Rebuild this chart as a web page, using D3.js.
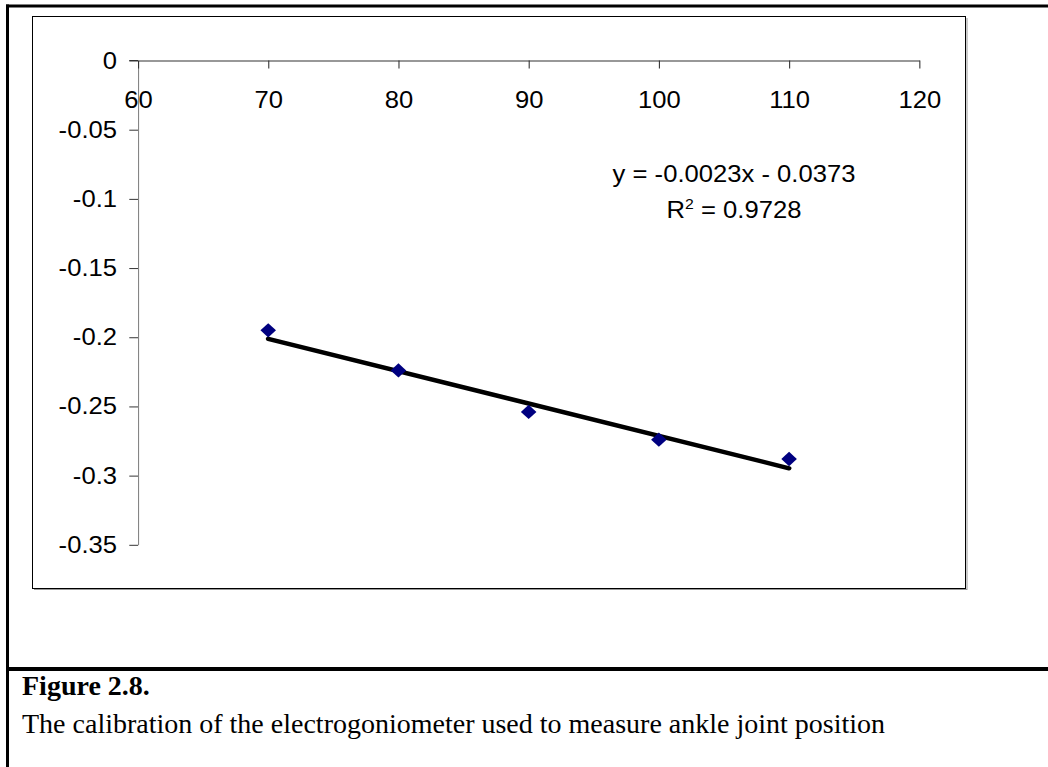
<!DOCTYPE html>
<html>
<head>
<meta charset="utf-8">
<script src="https://cdn.jsdelivr.net/npm/d3@7"></script>
<style>
  html, body { margin: 0; padding: 0; background: #fff; }
  svg { display: block; }
</style>
</head>
<body>
<svg id="fig" width="1048" height="767"></svg>
<script>
// Calibration readings: joint angle (deg) vs goniometer output (V)
const angles = [70, 80, 90, 100, 110];
const outputs = [-0.195, -0.224, -0.254, -0.274, -0.288];

// Linear fit shown on the chart
const fitSlope = -0.00234;
const fitIntercept = -0.0373;
const fitLabel = "y = -0.0023x - 0.0373";
const fitR2Value = "0.9728";

// Axis ticks
const xTicks = [60, 70, 80, 90, 100, 110, 120];
const yTicks = [0, -0.05, -0.1, -0.15, -0.2, -0.25, -0.3, -0.35];
const yTickLabels = ["0", "-0.05", "-0.1", "-0.15", "-0.2", "-0.25", "-0.3", "-0.35"];

const captionTitle = "Figure 2.8.";
const captionText = "The calibration of the electrogoniometer used to measure ankle joint position";

const svg = d3.select("#fig");
const W = 1048, H = 767;

// Page frame
svg.append("line").attr("x1", 7.5).attr("x2", 7.5).attr("y1", 4.5).attr("y2", H)
  .attr("stroke", "#000").attr("stroke-width", 3);
svg.append("line").attr("x1", 6).attr("x2", W).attr("y1", 6).attr("y2", 6)
  .attr("stroke", "#000").attr("stroke-width", 3);
svg.append("line").attr("x1", 6).attr("x2", W).attr("y1", 669).attr("y2", 669)
  .attr("stroke", "#000").attr("stroke-width", 4);

// Chart area box with a light shadow edge
svg.append("line").attr("x1", 34).attr("x2", 967).attr("y1", 589.5).attr("y2", 589.5)
  .attr("stroke", "#999").attr("stroke-width", 1);
svg.append("line").attr("x1", 967).attr("x2", 967).attr("y1", 18).attr("y2", 590)
  .attr("stroke", "#999").attr("stroke-width", 1);
svg.append("rect").attr("x", 32.5).attr("y", 16.5).attr("width", 933).attr("height", 572)
  .attr("fill", "#fff").attr("stroke", "#000").attr("stroke-width", 1);

// The plot is drawn slightly stretched horizontally
const SX = 1.09;
const plot = svg.append("g").attr("transform", `scale(${SX},1)`);
const fontFamily = "'Liberation Sans', Arial, Helvetica, sans-serif";
const fontSize = 23.5;

const x = d3.scaleLinear().domain([60, 120]).range([138 / SX, 919.3 / SX]);
const y = d3.scaleLinear().domain([0, -0.35]).range([60.5, 544.8]);

// Y axis (grey spine, dark ticks)
const yAxis = plot.append("g")
  .attr("transform", `translate(${x(60)},0)`)
  .call(d3.axisLeft(y).tickValues(yTicks).tickSize(8).tickSizeOuter(0).tickPadding(21 / SX - 8)
    .tickFormat((d, i) => yTickLabels[i]));
yAxis.select(".domain").attr("stroke", "#858585").attr("stroke-width", 1);
yAxis.selectAll(".tick line").attr("stroke", "#333");
yAxis.selectAll("text").attr("font-family", fontFamily).attr("font-size", fontSize).attr("fill", "#000");

// X axis along y = 0, ticks pointing down
const xAxis = plot.append("g")
  .attr("transform", `translate(0,${y(0)})`)
  .call(d3.axisBottom(x).tickValues(xTicks).tickSize(8).tickSizeOuter(0).tickPadding(22.5)
    .tickFormat(d => String(d)));
xAxis.select(".domain").attr("stroke", "#333").attr("stroke-width", 1);
xAxis.selectAll(".tick line").attr("stroke", "#333");
xAxis.selectAll("text").attr("font-family", fontFamily).attr("font-size", fontSize).attr("fill", "#000");
// extend the zero line over the left tick
plot.append("line").attr("x1", x(60) - 8).attr("x2", x(60)).attr("y1", y(0)).attr("y2", y(0))
  .attr("stroke", "#333");

// Fitted line across the measured range
const fitX = [d3.min(angles), d3.max(angles)];
plot.append("line")
  .attr("x1", x(fitX[0])).attr("y1", y(fitSlope * fitX[0] + fitIntercept))
  .attr("x2", x(fitX[1])).attr("y2", y(fitSlope * fitX[1] + fitIntercept))
  .attr("stroke", "#000").attr("stroke-width", 4.4).attr("stroke-linecap", "round");

// Data markers: navy diamonds
const diamond = d3.symbol().type(d3.symbolSquare).size(102);
plot.selectAll("path.pt")
  .data(angles.map((a, i) => [a, outputs[i]]))
  .join("path")
  .attr("class", "pt")
  .attr("d", diamond)
  .attr("transform", d => `translate(${x(d[0])},${y(d[1])}) rotate(45)`)
  .attr("fill", "#000080");

// Equation and R-squared
const eqX = 734 / SX;
plot.append("text")
  .attr("x", eqX).attr("y", 181.7)
  .attr("text-anchor", "middle")
  .attr("font-family", fontFamily).attr("font-size", fontSize)
  .text(fitLabel);
const r2 = plot.append("text")
  .attr("x", eqX).attr("y", 218.3)
  .attr("text-anchor", "middle")
  .attr("font-family", fontFamily).attr("font-size", fontSize);
r2.append("tspan").text("R");
r2.append("tspan").attr("font-size", 14.5).attr("dy", -9.5).text("2");
r2.append("tspan").attr("dy", 9.5).text(" = " + fitR2Value);

// Caption
svg.append("text")
  .attr("x", 22).attr("y", 695)
  .attr("font-family", "'Liberation Serif', 'Times New Roman', serif")
  .attr("font-weight", "bold").attr("font-size", 28)
  .text(captionTitle);
svg.append("text")
  .attr("x", 22).attr("y", 733.3)
  .attr("font-family", "'Liberation Serif', 'Times New Roman', serif")
  .attr("font-size", 28)
  .text(captionText);
</script>
</body>
</html>
